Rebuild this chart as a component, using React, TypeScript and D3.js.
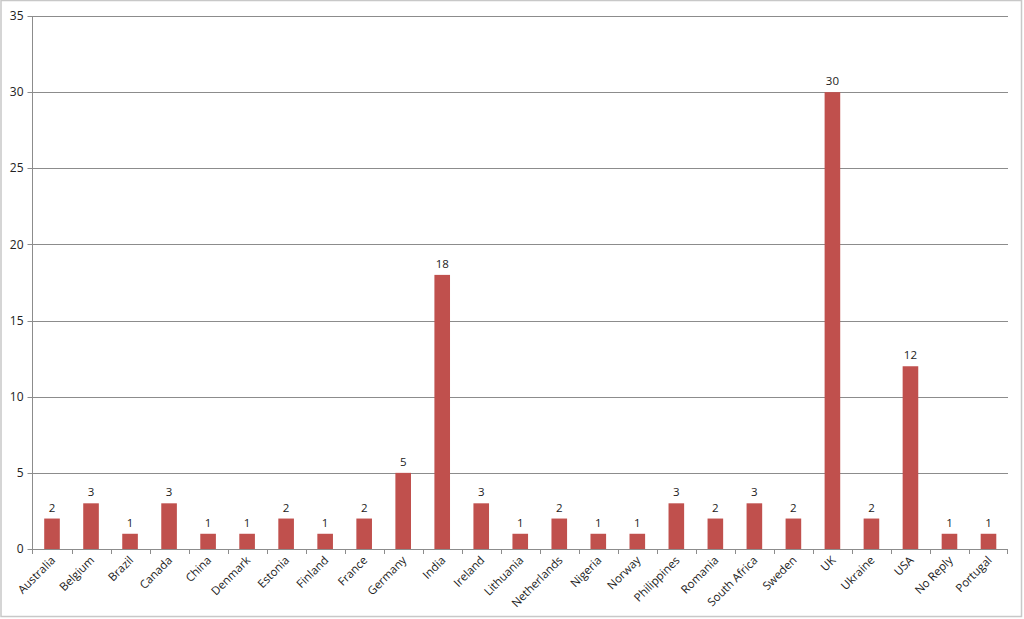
import React from "react";
import * as d3 from "d3";

const categories = ["Australia","Belgium","Brazil","Canada","China","Denmark","Estonia","Finland","France","Germany","India","Ireland","Lithuania","Netherlands","Nigeria","Norway","Philippines","Romania","South Africa","Sweden","UK","Ukraine","USA","No Reply","Portugal"];
const values = [2,3,1,3,1,1,2,1,2,5,18,3,1,2,1,1,3,2,3,2,30,2,12,1,1];
const yTicks = [0,5,10,15,20,25,30,35];

export default function App() {
  const W = 1024, H = 619;
  const left = 32.5, right = 1008, top = 16, bottom = 549;
  const x = d3.scaleBand<string>().domain(categories).range([left, right]).paddingInner(0).paddingOuter(0);
  const y = d3.scaleLinear().domain([0, 35]).range([bottom, top]);
  const bw = x.bandwidth() * 0.4;
  const font = "'Open Sans', 'Liberation Sans', sans-serif";
  return (
    <svg width={W} height={H} style={{ position: "absolute", left: 0, top: 0 }} fontFamily={font}>
      <rect x={1} y={0.5} width={1020.5} height={616} fill="white" stroke="#c8c8c8" strokeWidth={1.5} />
      {yTicks.map(t => (
        <g key={t}>
          {t > 0 && <line x1={left} x2={right} y1={Math.round(y(t)) + 0.5} y2={Math.round(y(t)) + 0.5} stroke="#8c8c8c" strokeWidth={1} />}
          <line x1={left - 5} x2={left} y1={Math.round(y(t)) + 0.5} y2={Math.round(y(t)) + 0.5} stroke="#8c8c8c" />
          <text x={left - 9} y={y(t)} dy="0.35em" textAnchor="end" fontSize={12} fill="#222">{t}</text>
        </g>
      ))}
      <line x1={left} x2={left} y1={top} y2={bottom} stroke="#8c8c8c" />
      <line x1={left} x2={right} y1={bottom + 0.5} y2={bottom + 0.5} stroke="#8c8c8c" />
      {categories.map((c, i) => (
        <line key={"t" + c} x1={Math.round(x(c)!) + 0.5} x2={Math.round(x(c)!) + 0.5} y1={bottom} y2={bottom + 5} stroke="#8c8c8c" />
      ))}
      <line x1={right - 0.5} x2={right - 0.5} y1={bottom} y2={bottom + 5} stroke="#8c8c8c" />
      {categories.map((c, i) => {
        const cx = x(c)! + x.bandwidth() / 2;
        return (
          <g key={c}>
            <rect x={cx - bw / 2} y={y(values[i])} width={bw} height={bottom - y(values[i])} fill="#C0504D" />
            <text x={cx} y={y(values[i]) - 7} textAnchor="middle" fontSize={11.5} fill="#222">{values[i]}</text>
            <text transform={`translate(${cx + 4},${bottom + 12}) rotate(-45)`} textAnchor="end" fontSize={11.5} fill="#222">{c}</text>
          </g>
        );
      })}
    </svg>
  );
}
